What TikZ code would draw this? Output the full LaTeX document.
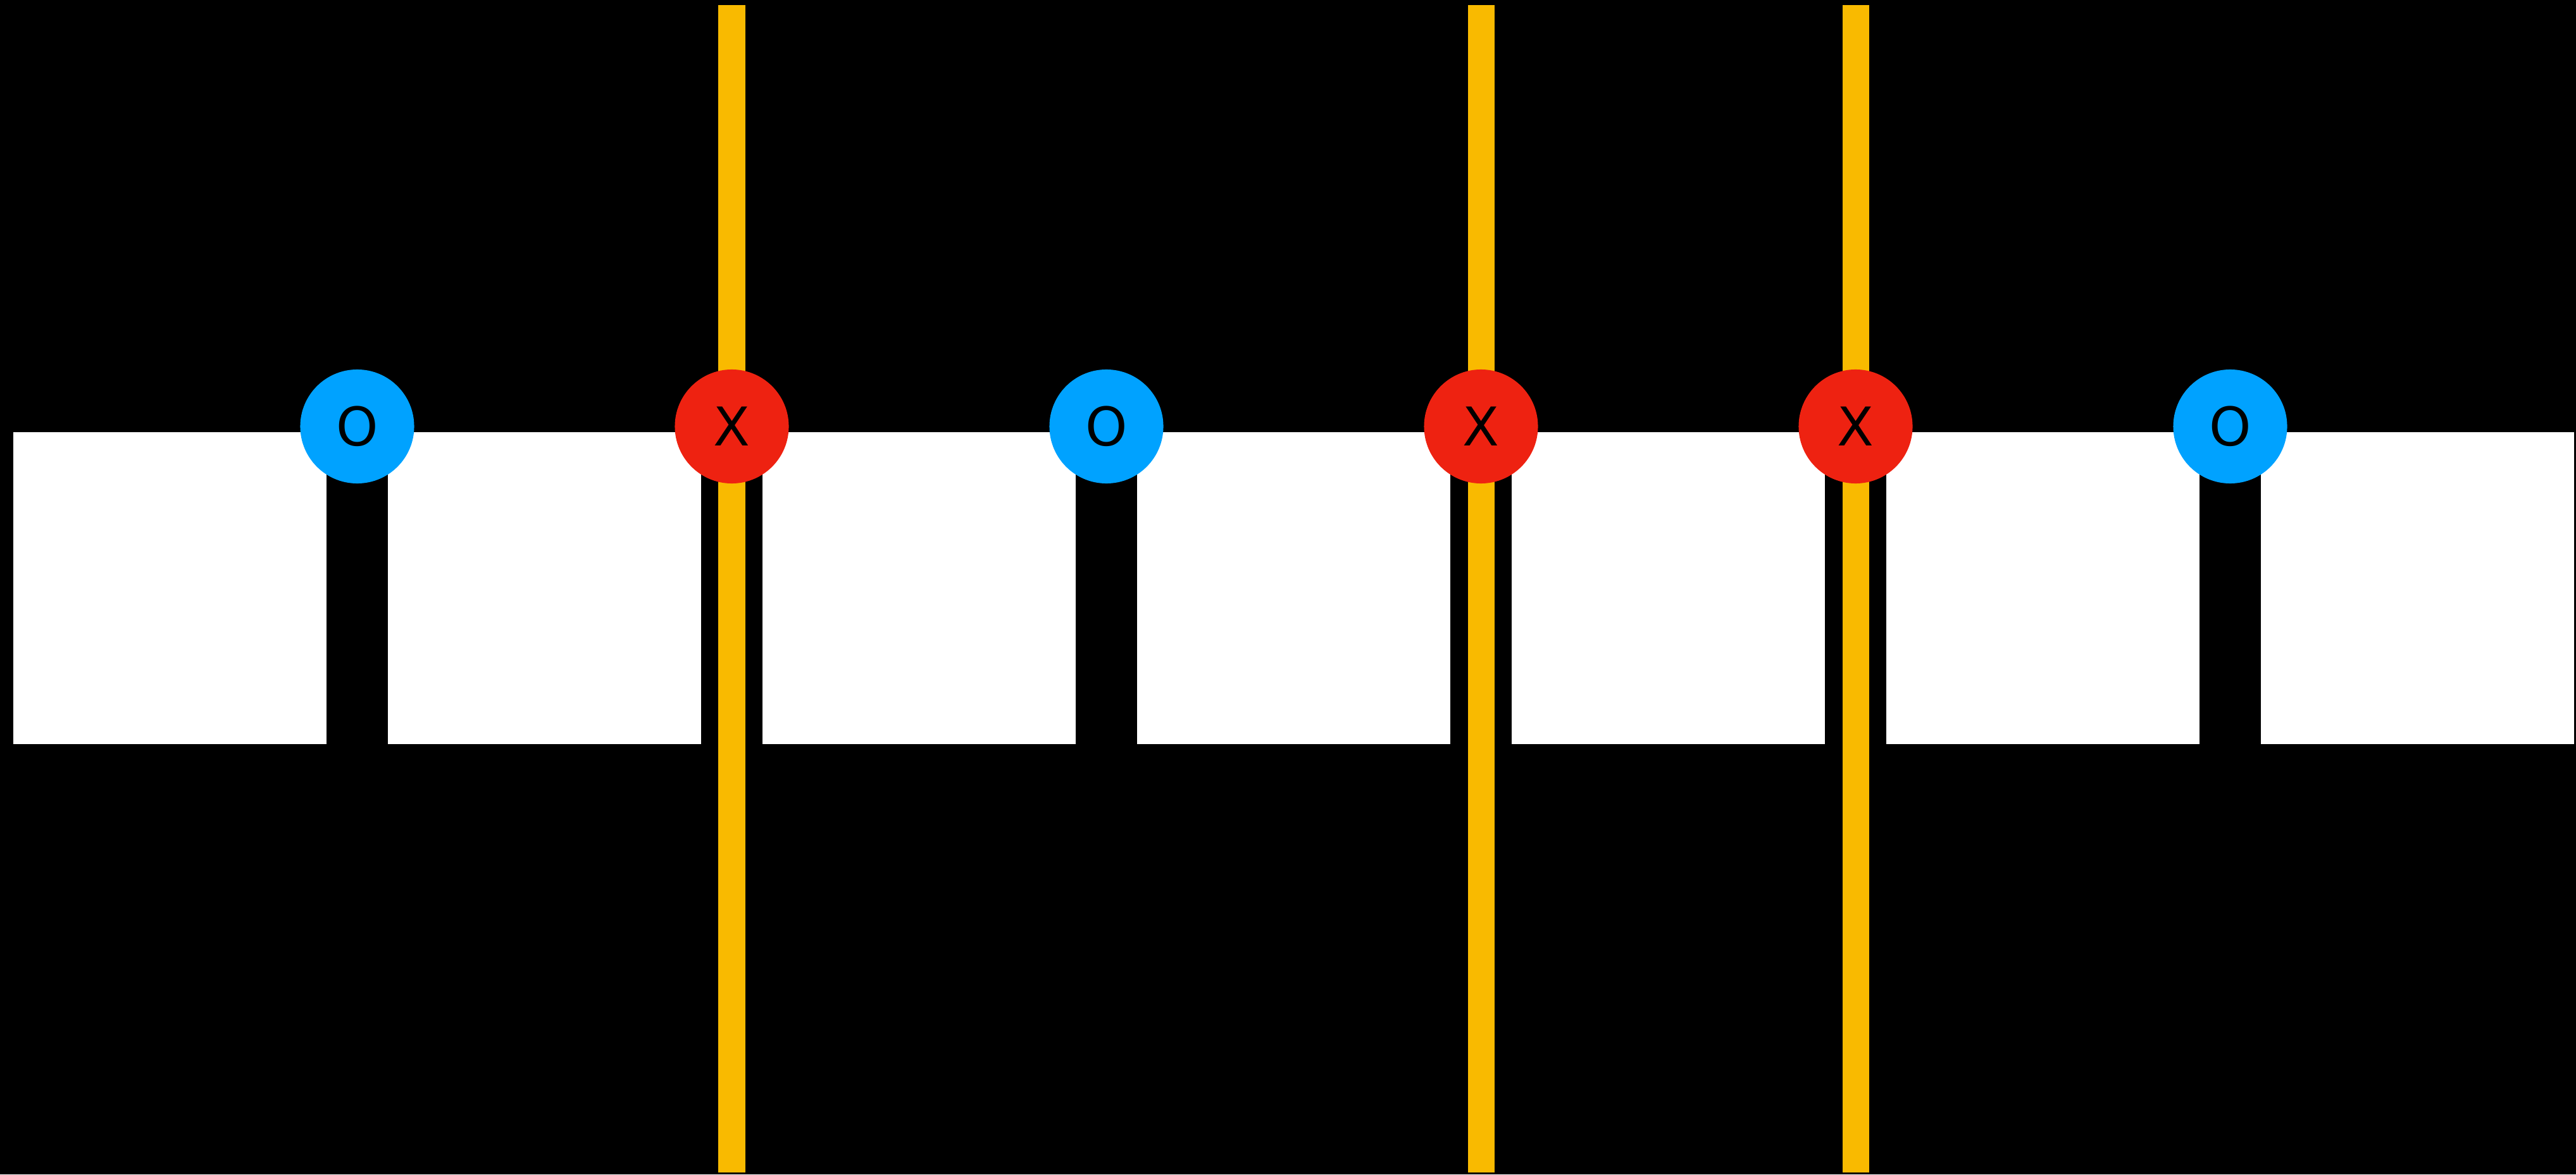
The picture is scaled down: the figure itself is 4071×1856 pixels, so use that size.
\documentclass[tikz,border=0pt]{standalone}
\usepackage{fontspec}
\setmainfont{DejaVu Sans}
\usetikzlibrary{positioning}

\definecolor{markBlue}{RGB}{0,162,255}
\definecolor{markRed}{RGB}{238,34,17}
\definecolor{cutYellow}{RGB}{249,186,0}

\begin{document}
\begin{tikzpicture}[
    x=0.01cm, y=0.01cm,
    cell/.style={fill=white, draw=none, minimum width=4.95cm, minimum height=4.93cm, inner sep=0pt, outer sep=0pt, anchor=south west},
    markO/.style={circle, fill=markBlue, minimum size=1.8cm, inner sep=0pt, font=\fontsize{24pt}{24pt}\selectfont},
    markX/.style={markO, fill=markRed},
    cut/.style={draw=cutYellow, line width=0.42cm}
]
    % Black canvas
    \fill [black] (0, 0) rectangle (4071, 1856);
    \useasboundingbox (0, 0) rectangle (4071, 1856);

    % Row of white cells
    \foreach \i in {0,...,6} {
        \node [cell] (cell\i) at (21+\i*592, 680) {};
    }

    % Gap centres between neighbouring cells
    \foreach \k in {0,...,5} {
        \coordinate (gap\k) at (564.5+\k*592, 1182);
    }

    % Cuts through the X gaps
    \foreach \k in {1,3,4} {
        \draw [cut] (gap\k |- 0,3) -- (gap\k |- 0,1848);
    }

    % Markers on every gap
    \foreach \k/\m in {0/O, 1/X, 2/O, 3/X, 4/X, 5/O} {
        \node [mark\m] (mark\k) at (gap\k) {\m};
    }
\end{tikzpicture}
\end{document}
